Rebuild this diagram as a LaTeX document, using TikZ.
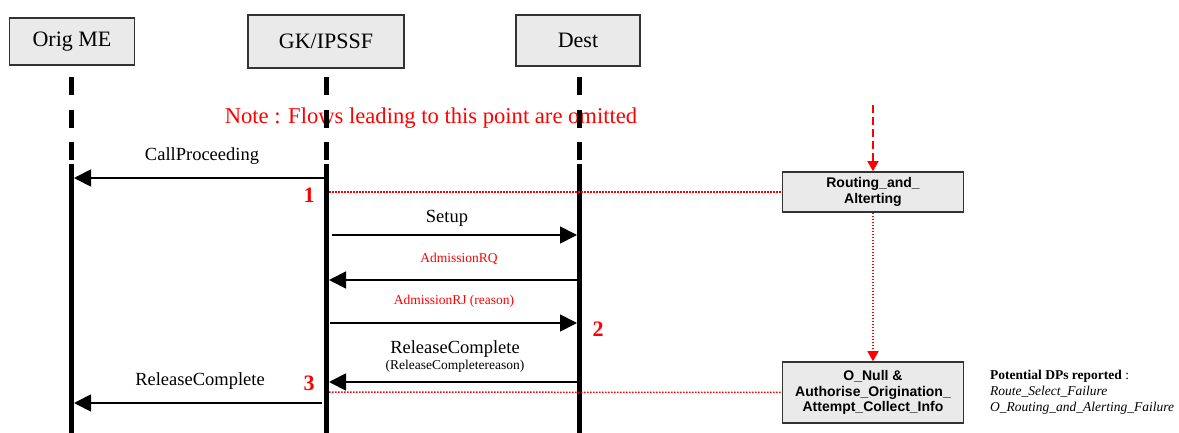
\documentclass[tikz,border=0pt]{standalone}
\usepackage{fontspec}
\setmainfont{Liberation Serif}
\setsansfont{Liberation Sans}
\usetikzlibrary{arrows.meta}
\definecolor{boxfill}{HTML}{EAEAEA}
\definecolor{boxline}{HTML}{333333}
\definecolor{nred}{HTML}{FF0000}
\newcommand{\fsz}[1]{\fontsize{#1}{#1}\selectfont}
\tikzset{
  entity/.style={draw=boxline, line width=1.6pt, fill=boxfill, inner sep=0pt, font=\fsz{22}},
  life/.style={line width=5pt, black},
  msg/.style={line width=1.8pt, black, -{Triangle[length=17pt,width=17pt]}},
  lbl/.style={font=\fsz{18.5}, inner sep=0pt},
  slbl/.style={font=\fsz{13.5}, inner sep=0pt},
  rlbl/.style={font=\fsz{13.5}, text=nred, inner sep=0pt},
  num/.style={font=\bfseries\fsz{22}, text=nred, inner sep=0pt},
  dpbox/.style={draw=boxline, line width=1.6pt, fill=boxfill, inner sep=0pt, align=center,
    font=\sffamily\bfseries\fontsize{14}{15.5}\selectfont},
  reddot/.style={nred, line width=1.5pt, dash pattern=on 1.5pt off 1.5pt},
  reddash/.style={nred, line width=1.5pt, dash pattern=on 8pt off 4pt, -{Triangle[length=10pt,width=11pt]}},
  reddotarrow/.style={nred, line width=1.5pt, dash pattern=on 1.5pt off 1.5pt, -{Triangle[length=10pt,width=11pt]}}
}
\begin{document}
\begin{tikzpicture}[x=1pt,y=-1pt]
\useasboundingbox (0,0) rectangle (1179,433);
% entities
\node[entity, minimum width=125pt, minimum height=47pt] (orig) at (72,41.5) {Orig ME};
\node[entity, minimum width=156pt, minimum height=53pt] (gk) at (326,41.5) {GK/IPSSF};
\node[entity, minimum width=124pt, minimum height=51pt] (dest) at (578,40.5) {Dest};
% note
\node[font=\fsz{22.6}, text=nred, inner sep=0pt] (note) at (431,118) {Note : Flows leading to this point are omitted};
% lifelines
\foreach \x/\n in {71.5/o, 326.5/g, 579.5/d}{
  \coordinate (\n top) at (\x,77);
  \coordinate (\n bot) at (\x,433);
  \draw[life] (\x,77) -- (\x,95);
  \draw[life] (\x,110) -- (\x,128);
  \draw[life] (\x,142) -- (\x,160);
  \draw[life] (\x,164) -- (\n bot);
}
% coordinates on lifelines
\coordinate (g1) at (324,178);   \coordinate (o1) at (74,178);
\coordinate (g2) at (332,235);   \coordinate (d2) at (577,235);
\coordinate (d3) at (577,280);   \coordinate (g3) at (329,280);
\coordinate (g4) at (330,323);   \coordinate (d4) at (577,323);
\coordinate (d5) at (577,382);   \coordinate (g5) at (329,382);
\coordinate (g6) at (322,403);   \coordinate (o6) at (74,403);
\coordinate (g1r) at (329,192);  \coordinate (g5r) at (329,392);
\coordinate (top) at (873,105);
% messages
\draw[msg] (g1) -- (o1);
\node[lbl] (l1) at (202,156) {CallProceeding};
\node[num] (n1) at (309,195) {1};
\draw[msg] (g2) -- (d2);
\node[lbl] (l2) at (447,218) {Setup};
\draw[msg] (d3) -- (g3);
\node[rlbl] (l3) at (459,259) {AdmissionRQ};
\draw[msg] (g4) -- (d4);
\node[rlbl] (l4) at (454,301) {AdmissionRJ (reason)};
\node[num] (n2) at (598,329) {2};
\draw[msg] (d5) -- (g5);
\node[lbl] (l5) at (455,349) {ReleaseComplete};
\node[slbl] (l5b) at (455,366) {(ReleaseCompletereason)};
\node[num] (n3) at (309,383) {3};
\draw[msg] (g6) -- (o6);
\node[lbl] (l6) at (200,381) {ReleaseComplete};
% DP boxes
\node[dpbox, minimum width=181pt, minimum height=40pt] (ra) at (873,192) {Routing\_and\_\\Alterting};
\node[dpbox, minimum width=181pt, minimum height=61pt] (on) at (873,392.5) {O\_Null \&\\Authorise\_Origination\_\\Attempt\_Collect\_Info};
\draw[reddot] (g1r) -- (ra.west);
\draw[reddot] (g5r) -- (on.west);
\draw[reddash] (top) -- (ra.north);
\draw[reddotarrow] (ra.south) -- (on.north);
% potential DPs
\node[anchor=north west, align=left, inner sep=0pt, font=\fontsize{13.5}{16}\selectfont] (pdp) at (990,370)
  {\textbf{Potential DPs reported} :\\ \textit{Route\_Select\_Failure}\\ \textit{O\_Routing\_and\_Alerting\_Failure}};
\end{tikzpicture}
\end{document}
